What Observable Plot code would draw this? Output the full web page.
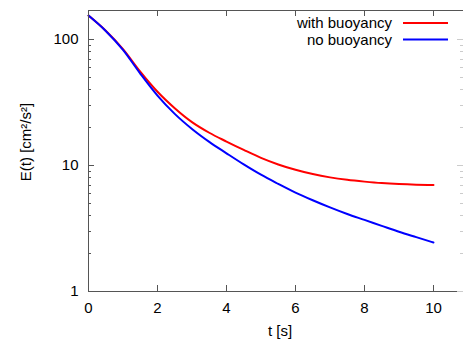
<!DOCTYPE html>
<html><head><meta charset="utf-8">
<script src="https://cdn.jsdelivr.net/npm/d3@7"></script>
<script src="https://cdn.jsdelivr.net/npm/@observablehq/plot@0.6"></script>
<style>
body{margin:0;background:#fff}
svg{font-family:"Liberation Sans",Arial,Helvetica,sans-serif}
</style>
</head><body><div id="chart"></div>
<script>
const t = [0,0.5,1,1.5,2,2.5,3,3.5,4,4.5,5,5.5,6,6.5,7,7.5,8,8.5,9,9.5,10];
const withBuoyancy = [155,117.5,84,55.6,38.5,28.5,22.1,18.2,15.5,13.3,11.5,10.2,9.25,8.55,8.05,7.7,7.45,7.25,7.12,7.04,7.0];
const noBuoyancy  = [155,117,82.8,53.7,35.9,25.7,19.5,15.4,12.5,10.2,8.45,7.15,6.1,5.3,4.65,4.12,3.7,3.32,2.98,2.7,2.45];
const seriesNames = ["with buoyancy","no buoyancy"];
const seriesColors = ["#ff0000","#0000ff"];
const xTicks = [0,2,4,6,8,10];
const yTicks = [1,10,100];
const yMinorTicks = [2,3,4,5,6,7,8,9,20,30,40,50,60,70,80,90];
const xLabel = "t [s]";
const yLabel = "E(t) [cm²/s²]";

const rows = [];
[withBuoyancy, noBuoyancy].forEach((vals, i) => {
  vals.forEach((v, j) => rows.push({t: t[j], E: v, series: seriesNames[i]}));
});

const frameColor = "#555";
const chart = Plot.plot({
  width: 466, height: 344,
  marginLeft: 88, marginRight: 3, marginTop: 10, marginBottom: 53,
  style: {fontSize: "15px", color: "#000", background: "#fff"},
  x: {domain: [0, 10.87]},
  y: {type: "log", domain: [1, 170]},
  color: {domain: seriesNames, range: seriesColors},
  marks: [
    Plot.axisX(xTicks, {tickSize: 0, tickPadding: 11, label: null, fontSize: 15}),
    Plot.axisY(yTicks, {tickSize: 0, tickPadding: 10, label: null, fontSize: 15, tickFormat: d3.format("d")}),
    Plot.text([xLabel], {frameAnchor: "bottom", dy: 44, dx: 4, fontSize: 15}),
    Plot.line(rows, {x: "t", y: "E", z: "series", stroke: "series", strokeWidth: 2, curve: "monotone-x"}),
    Plot.ruleX([0], {stroke: frameColor}),
    Plot.ruleY([1, 170], {stroke: frameColor})
  ]
});
document.getElementById("chart").appendChild(chart);

// inward tick marks using the chart's own scales
const sx = chart.scale("x"), sy = chart.scale("y");
const svg = d3.select(chart);
const g = svg.append("g").attr("stroke", frameColor).attr("stroke-width", 1);
const x0 = sx.apply(0), xr = sx.range[1];
const yb = sy.apply(1), yt = sy.apply(170);
xTicks.filter(d => d > 0).forEach(d => {
  const x = Math.round(sx.apply(d)) + 0.5;
  g.append("line").attr("x1", x).attr("x2", x).attr("y1", yb).attr("y2", yb - 6);
  g.append("line").attr("x1", x).attr("x2", x).attr("y1", yt).attr("y2", yt + 6);
});
yTicks.concat(yMinorTicks).forEach(d => {
  const y = Math.round(sy.apply(d)) + 0.5;
  const len = yTicks.includes(d) ? 6 : 3;
  g.append("line").attr("x1", x0).attr("x2", x0 + len).attr("y1", y).attr("y2", y);
  g.append("line").attr("x1", xr).attr("x2", xr - len).attr("y1", y).attr("y2", y).attr("stroke", "#ccc");
});

// y axis title
svg.append("text").attr("transform", "translate(25,142) rotate(-90)")
  .attr("text-anchor", "middle").attr("dominant-baseline", "central")
  .attr("font-size", 15).attr("fill", "#000").text(yLabel);

// legend
const lg = svg.append("g").attr("font-size", 15).attr("fill", "#000");
seriesNames.forEach((name, i) => {
  const yb = 28 + i * 16.5;
  lg.append("text").attr("x", 392).attr("y", yb).attr("text-anchor", "end").text(name);
  lg.append("line").attr("x1", 403).attr("x2", 448).attr("y1", yb - 5).attr("y2", yb - 5)
    .attr("stroke", seriesColors[i]).attr("stroke-width", 2);
});
</script>
</body></html>
